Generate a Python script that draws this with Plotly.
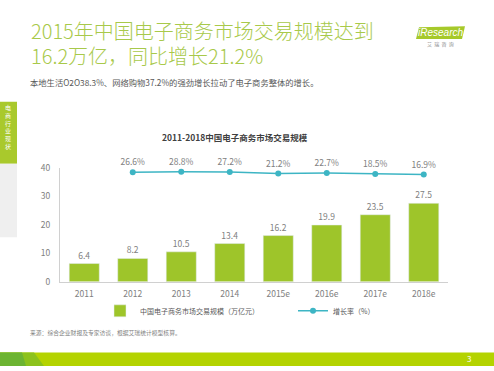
import plotly.graph_objects as go

W, H = 494, 371

years = ["2011", "2012", "2013", "2014", "2015e", "2016e", "2017e", "2018e"]
scale = [6.4, 8.2, 10.5, 13.4, 16.2, 19.9, 23.5, 27.5]
growth_years = ["2012", "2013", "2014", "2015e", "2016e", "2017e", "2018e"]
growth = [26.6, 28.8, 27.2, 21.2, 22.7, 18.5, 16.9]
y_ticks = [0, 10, 20, 30, 40]

title1 = "2015年中国电子商务市场交易规模达到"
title2 = "16.2万亿，同比增长21.2%"
subtitle = "本地生活O2O38.3%、网络购物37.2%的强劲增长拉动了电子商务整体的增长。"
chart_title = "2011-2018中国电子商务市场交易规模"
source = "来源：综合企业财报及专家访谈，根据艾瑞统计模型核算。"
bar_name = "中国电子商务市场交易规模（万亿元）"
line_name = "增长率（%）"

GREEN = "#9ec52a"
TEAL = "#3db5c4"
GRAY = "#808080"
FONT = "Noto Sans CJK SC"


def px(x):
    return x / W


def py(y):
    return 1 - y / H


fig = go.Figure()
fig.add_trace(go.Bar(
    x=years, y=scale, name=bar_name, marker_color=GREEN,
    text=[f"{v:.1f}" for v in scale], textposition="outside",
    textfont=dict(size=8.5, color=GRAY), cliponaxis=False, legend="legend",
))
fig.add_trace(go.Scatter(
    x=growth_years, y=growth, name=line_name, yaxis="y2",
    mode="lines+markers+text", line=dict(color=TEAL, width=1.5),
    marker=dict(size=6, color=TEAL),
    text=[f"{v:.1f}%" for v in growth], textposition="top center",
    textfont=dict(size=8.5, color=GRAY), cliponaxis=False, legend="legend2",
))

shapes = [
    # left tab
    dict(type="rect", xref="paper", yref="paper", x0=px(0), x1=px(17), y0=py(162), y1=py(98),
         fillcolor="#a9c92c", line_width=0, layer="below"),
    dict(type="rect", xref="paper", yref="paper", x0=px(0), x1=px(17), y0=py(238), y1=py(162),
         fillcolor="#efefef", line_width=0, layer="below"),
    # bottom band
    dict(type="rect", xref="paper", yref="paper", x0=0, x1=1, y0=0, y1=py(357),
         fillcolor="#b4d300", line_width=0, layer="below"),
    dict(type="path", xref="paper", yref="paper",
         path=f"M 0 0 L {px(44)} 0 L {px(34)} {py(357)} L 0 {py(357)} Z",
         fillcolor="#8cc21c", line_width=0, layer="below"),
    dict(type="path", xref="paper", yref="paper",
         path=f"M 0 0 L {px(26)} 0 L {px(22)} {py(357)} L 0 {py(357)} Z",
         fillcolor="#6cb432", line_width=0, layer="below"),
    # logo
    dict(type="path", xref="paper", yref="paper",
         path=f"M {px(416)} {py(33)} L {px(462)} {py(33)} L {px(465)} {py(20)} L {px(419)} {py(21)} Z",
         fillcolor="#a6c92a", line_width=0, layer="below"),
]

annotations = [
    dict(text=title1, x=px(29), y=py(24), xanchor="left", yanchor="middle",
         font=dict(family=FONT, size=20, color="#a8c94a", weight=300)),
    dict(text=title2, x=px(29), y=py(50), xanchor="left", yanchor="middle",
         font=dict(family=FONT, size=20, color="#a8c94a", weight=300)),
    dict(text=subtitle, x=px(28), y=py(77), xanchor="left", yanchor="middle",
         font=dict(family=FONT, size=8.3, color="#595959")),
    dict(text="<b>" + chart_title + "</b>", x=px(235), y=py(134), xanchor="center", yanchor="middle",
         font=dict(family=FONT, size=8.5, color="#404040")),
    dict(text=source, x=px(28), y=py(336), xanchor="left", yanchor="middle",
         font=dict(family=FONT, size=5.8, color="#7f7f7f")),
    dict(text="3", x=px(469), y=py(363), xanchor="center", yanchor="middle",
         font=dict(family=FONT, size=8, color="white")),
    dict(text="<i>iResearch</i>", x=px(440), y=py(26), xanchor="center", yanchor="middle",
         font=dict(family="Liberation Sans", size=10, color="white")),
    dict(text="艾  瑞  咨  询", x=px(440), y=py(38), xanchor="center", yanchor="middle",
         font=dict(family=FONT, size=5, color="#888888")),
    dict(text="电<br>商<br>行<br>业<br>现<br>状", x=px(8), y=py(124), xanchor="center", yanchor="middle",
         font=dict(family=FONT, size=6, color="white"), align="center"),
]
for a in annotations:
    a.update(xref="paper", yref="paper", showarrow=False)

legend_common = dict(orientation="h", xanchor="left", yanchor="middle",
                     font=dict(family=FONT, size=7, color="#595959"),
                     bgcolor="rgba(0,0,0,0)", itemwidth=30)

fig.update_layout(
    width=W, height=H, margin=dict(l=0, r=0, t=0, b=0),
    paper_bgcolor="white", plot_bgcolor="white",
    font=dict(family=FONT, color=GRAY),
    bargap=0.38,
    shapes=shapes, annotations=annotations,
    xaxis=dict(domain=[px(60), px(448)], showline=True, linecolor="#d0d0d0", linewidth=1,
               showgrid=False, ticks="outside", ticklen=4, tickcolor="rgba(0,0,0,0)",
               tickfont=dict(size=8.5, color=GRAY), range=[-0.5, 7.5]),
    yaxis=dict(domain=[py(284), py(166)], range=[0, 40], tickvals=y_ticks,
               showline=True, linecolor="#d0d0d0", linewidth=1, showgrid=False, zeroline=False,
               ticks="outside", ticklen=7, tickcolor="rgba(0,0,0,0)",
               tickfont=dict(size=8.5, color=GRAY)),
    yaxis2=dict(overlaying="y", range=[-451, 46.4], visible=False),
    showlegend=True,
    legend=dict(x=px(100), y=py(314), **legend_common),
    legend2=dict(x=px(293), y=py(314), **legend_common),
)

fig.write_html("out.html", config={"displayModeBar": False},
               post_script="document.body.style.margin='0';document.body.style.overflow='hidden';")
